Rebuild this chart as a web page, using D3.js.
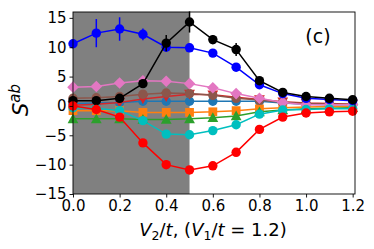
<!DOCTYPE html>
<html>
<head>
<meta charset="utf-8">
<script src="https://cdn.jsdelivr.net/npm/d3@7"></script>
<style>
  body { margin: 0; background: #fff; }
  svg { font-family: "DejaVu Sans", sans-serif; }
</style>
</head>
<body>
<div id="chart"></div>
<script>
// x values (V2/t)
const xVals = [0.0, 0.1, 0.2, 0.3, 0.4, 0.5, 0.6, 0.7, 0.8, 0.9, 1.0, 1.1, 1.2];

// series values
const steelBlue = [0.4, 0.5, 0.6, 0.8, 0.8, 0.8, 0.8, 0.8, 0.8, 0.5, 0.3, 0.2, 0.2];
const orange    = [-0.8, -0.8, -0.8, -1.1, -1.1, -1.1, -1.0, -0.8, -0.5, -0.3, -0.2, -0.1, -0.1];
const green     = [-2.2, -2.2, -2.2, -2.3, -2.3, -2.2, -2.0, -1.7, -1.0, -0.7, -0.5, -0.4, -0.3];
const redTri    = [0.1, 0.3, 0.6, 1.2, 1.6, 2.0, 1.9, 1.5, 1.1, 0.7, 0.5, 0.4, 0.3];
const brown     = [1.3, 1.4, 1.6, 2.0, 2.2, 2.1, 1.8, 1.3, 1.0, 0.6, 0.4, 0.3, 0.3];
const pink      = [3.2, 3.3, 3.9, 4.3, 4.2, 3.8, 3.1, 2.1, 1.3, 0.6, 0.2, 0.2, 0.2];
const cyan      = [-0.3, -0.4, -0.8, -2.5, -4.8, -4.9, -4.2, -3.2, -1.4, -0.7, -0.6, -0.5, -0.5];
const blue      = [10.6, 12.4, 13.1, 12.2, 10.0, 9.9, 9.0, 6.6, 3.6, 2.1, 1.3, 1.1, 0.9];
const black     = [0.9, 0.9, 1.3, 3.8, 10.7, 14.3, 11.3, 9.6, 4.3, 2.3, 1.6, 1.3, 1.05];
const red       = [0.0, -0.6, -1.9, -6.3, -10.0, -10.9, -10.2, -7.9, -4.0, -1.9, -1.2, -1.0, -0.9];

// error bars
const blueErr  = [0, 2.4, 2.0, 1.0, 0.5, 0, 0, 0, 0, 0, 0, 0, 0];
const blackErr = [0, 0, 0, 0, 1.4, 1.8, 0.8, 1.1, 0, 0, 0, 0, 0];
const redErr   = [0, 0, 0, 0, 0.8, 0.4, 0, 0, 0, 0, 0, 0, 0];

const yTicks = [-15, -10, -5, 0, 5, 10, 15];
const xTicks = [0.0, 0.2, 0.4, 0.6, 0.8, 1.0, 1.2];

const series = [
    { v: steelBlue, color: "#1f77b4", marker: "circle" },
    { v: orange,    color: "#ff7f0e", marker: "square" },
    { v: green,     color: "#2ca02c", marker: "triUp" },
    { v: redTri,    color: "#d62728", marker: "triDown" },
    { v: brown,     color: "#8c564b", marker: "circle" },
    { v: pink,      color: "#e377c2", marker: "diamond" },
    { v: cyan,      color: "#00bfbf", marker: "circle" },
    { v: blue,      color: "#0000ff", marker: "circle", err: blueErr },
    { v: black,     color: "#000000", marker: "circle", err: blackErr },
    { v: red,       color: "#ff0000", marker: "circle", err: redErr }
];

const W = 374, H = 249;
const margin = { top: 12, right: 19, bottom: 55, left: 73 };
const width = W - margin.left - margin.right,
      height = H - margin.top - margin.bottom;

const svg = d3.select("#chart").append("svg")
    .attr("width", W)
    .attr("height", H);

const g = svg.append("g")
    .attr("transform", `translate(${margin.left},${margin.top})`);

const x = d3.scaleLinear().domain([0, 1.21]).range([0, width]);
const y = d3.scaleLinear().domain([-15, 16]).range([height, 0]);

// shaded region
g.append("rect")
    .attr("x", x(0))
    .attr("y", 0)
    .attr("width", x(0.5) - x(0))
    .attr("height", height)
    .attr("fill", "#808080");

// marker shapes
function markerPath(type) {
    const r = 4.7;
    switch (type) {
        case "square":
            return `M${-r + 0.3},${-r + 0.3}h${2 * r - 0.6}v${2 * r - 0.6}h${-2 * r + 0.6}Z`;
        case "diamond": {
            const d = 5.8;
            return `M0,${-d}L${d},0L0,${d}L${-d},0Z`;
        }
        case "triUp": {
            const t = 5.4;
            return `M0,${-t}L${t},${t * 0.8}L${-t},${t * 0.8}Z`;
        }
        case "triDown": {
            const t = 5.4;
            return `M0,${t}L${t},${-t * 0.8}L${-t},${-t * 0.8}Z`;
        }
        default:
            return d3.symbol(d3.symbolCircle, Math.PI * r * r)();
    }
}

const line = d3.line()
    .x((d, i) => x(xVals[i]))
    .y(d => y(d));

series.forEach(s => {
    const sg = g.append("g");
    sg.append("path")
        .datum(s.v)
        .attr("fill", "none")
        .attr("stroke", s.color)
        .attr("stroke-width", 1.5)
        .attr("d", line);

    if (s.err) {
        sg.selectAll(".err")
            .data(s.v.map((v, i) => ({ v: v, e: s.err[i], x: xVals[i] })).filter(d => d.e > 0))
            .join("line")
            .attr("x1", d => x(d.x))
            .attr("x2", d => x(d.x))
            .attr("y1", d => y(d.v - d.e))
            .attr("y2", d => y(d.v + d.e))
            .attr("stroke", s.color)
            .attr("stroke-width", 1.5);
    }

    sg.selectAll(".pt")
        .data(s.v)
        .join("path")
        .attr("transform", (d, i) => `translate(${x(xVals[i])},${y(d)})`)
        .attr("d", markerPath(s.marker))
        .attr("fill", s.color);
});

// frame
g.append("rect")
    .attr("width", width)
    .attr("height", height)
    .attr("fill", "none")
    .attr("stroke", "#000")
    .attr("stroke-width", 0.9);

// axes
const fmtX = d => d3.format(".1f")(d);
const fmtY = d => (d < 0 ? "\u2212" + Math.abs(d) : String(d));

const xAxis = g.append("g")
    .attr("transform", `translate(0,${height})`)
    .call(d3.axisBottom(x).tickValues(xTicks).tickFormat(fmtX).tickSize(3.5).tickPadding(3));

const yAxis = g.append("g")
    .call(d3.axisLeft(y).tickValues(yTicks).tickFormat(fmtY).tickSize(3.5).tickPadding(3));

[xAxis, yAxis].forEach(a => {
    a.select(".domain").remove();
    a.selectAll("text")
        .attr("font-family", "DejaVu Sans")
        .attr("font-size", 15)
        .attr("fill", "#000");
    a.selectAll("line").attr("stroke", "#000").attr("stroke-width", 0.9);
});

// x label
const xl = svg.append("text")
    .attr("x", 213)
    .attr("y", 236)
    .attr("text-anchor", "middle")
    .attr("font-size", 18)
    .attr("fill", "#000");
xl.append("tspan").attr("font-style", "italic").text("V");
xl.append("tspan").attr("font-size", 12.5).attr("dy", 3.5).text("2");
xl.append("tspan").attr("dy", -3.5).text("/");
xl.append("tspan").attr("font-style", "italic").text("t");
xl.append("tspan").text(", (");
xl.append("tspan").attr("font-style", "italic").text("V");
xl.append("tspan").attr("font-size", 12.5).attr("dy", 3.5).text("1");
xl.append("tspan").attr("dy", -3.5).text("/");
xl.append("tspan").attr("font-style", "italic").text("t");
xl.append("tspan").text(" = 1.2)");

// y label
const yl = svg.append("text")
    .attr("transform", "translate(28,100) rotate(-90)")
    .attr("text-anchor", "middle")
    .attr("font-size", 21)
    .attr("fill", "#000");
yl.append("tspan").attr("font-style", "italic").text("S");
yl.append("tspan").attr("font-style", "italic").attr("font-size", 15).attr("dy", -8).text("ab");

// panel tag
svg.append("text")
    .attr("x", 318)
    .attr("y", 43)
    .attr("text-anchor", "middle")
    .attr("font-size", 19)
    .attr("fill", "#000")
    .text("(c)");
</script>
</body>
</html>
